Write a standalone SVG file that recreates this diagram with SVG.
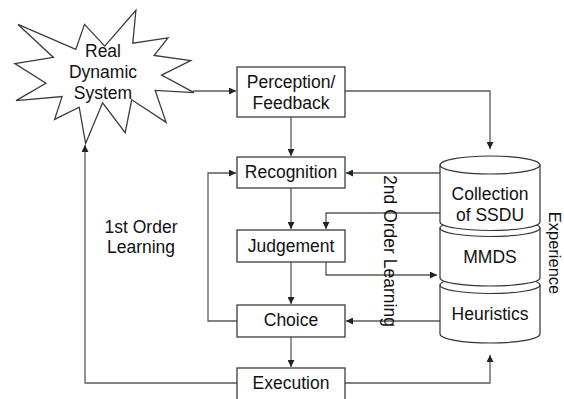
<svg xmlns="http://www.w3.org/2000/svg" width="564" height="399" viewBox="0 0 564 399">
<defs>
<marker id="arr" markerUnits="userSpaceOnUse" markerWidth="8" markerHeight="7" refX="7" refY="3.5" orient="auto">
<path d="M0,0 L7,3.5 L0,7 z" fill="#222"/>
</marker>
<style>
.box{fill:#fff;stroke:#3c3c3c;stroke-width:1.3}
.cyl{fill:#fff;stroke:#333;stroke-width:1.2}
.con{fill:none;stroke:#5a5a5a;stroke-width:1.3}
.arrow{marker-end:url(#arr)}
text{font-family:"Liberation Sans",Arial,sans-serif;font-size:17.5px;fill:#111;text-anchor:middle}
</style>
</defs>
<rect width="564" height="399" fill="#fff"/>

<g id="connectors">
<path class="con arrow" d="M193,91 H236"/>
<path class="con arrow" d="M345,91 H490 V149"/>
<path class="con arrow" d="M291,117 V156"/>
<path class="con arrow" d="M291,188 V229"/>
<path class="con arrow" d="M291,262 V304"/>
<path class="con arrow" d="M291,337 V367"/>
<path class="con arrow" d="M237,321 H208 V173 H236"/>
<path class="con arrow" d="M237,383 H85 V145"/>
<path class="con arrow" d="M345,383 H490 V355"/>
<path class="con arrow" d="M440,173 H346"/>
<path class="con arrow" d="M440,213 H326 V229"/>
<path class="con arrow" d="M326,262 V275 H437"/>
<path class="con arrow" d="M440,321 H346"/>
</g>

<g id="real-dynamic-system">
<polygon class="box" points="104.8,46.1 84.5,24.4 75.8,49.4 18,24.4 53.4,57.4 14.9,63.6 45.9,83.2 16,100.6 62.1,96.6 54.6,119.4 79.2,107.1 85.6,143.5 102.6,102.8 125.2,132.6 131.7,99.8 166.1,122.4 155.2,90.4 194,92.6 161.6,75.1 190.7,60.6 154.1,55.5 168,37.8 132.8,43.2 135.9,10.2"/>
<text x="103" y="57">Real</text>
<text x="103" y="78">Dynamic</text>
<text x="103" y="99">System</text>
</g>

<g id="perception">
<rect class="box" x="237" y="67" width="108" height="50"/>
<text x="291" y="88">Perception/</text>
<text x="291" y="109">Feedback</text>
</g>
<g id="recognition">
<rect class="box" x="237" y="157" width="108" height="31"/>
<text x="291" y="178">Recognition</text>
</g>
<g id="judgement">
<rect class="box" x="237" y="230" width="108" height="32"/>
<text x="291" y="252">Judgement</text>
</g>
<g id="choice">
<rect class="box" x="237" y="305" width="108" height="32"/>
<text x="291" y="326">Choice</text>
</g>
<g id="execution">
<rect class="box" x="237" y="368" width="108" height="32"/>
<text x="291" y="389">Execution</text>
</g>

<g id="heuristics">
<path class="cyl" d="M440,285 V334 A50,9 0 0 0 540,334 V285"/>
<ellipse class="cyl" cx="490" cy="285" rx="50" ry="8.5"/>
<text x="490" y="320">Heuristics</text>
</g>
<g id="mmds">
<path class="cyl" d="M440,228 V278 A50,8 0 0 0 540,278 V228"/>
<ellipse class="cyl" cx="490" cy="228" rx="50" ry="8.5"/>
<text x="490" y="263">MMDS</text>
</g>
<g id="collection">
<path class="cyl" d="M440,165 V222 A50,8.5 0 0 0 540,222 V165"/>
<ellipse class="cyl" cx="490" cy="165" rx="50" ry="9"/>
<text x="490" y="199.5">Collection</text>
<text x="490" y="221">of SSDU</text>
</g>

<g id="labels">
<text x="141" y="233">1st Order</text>
<text x="141" y="253">Learning</text>
<text transform="translate(384,251) rotate(90)">2nd Order Learning</text>
<text transform="translate(549,253) rotate(90)" style="font-size:16.5px">Experience</text>
</g>
</svg>
